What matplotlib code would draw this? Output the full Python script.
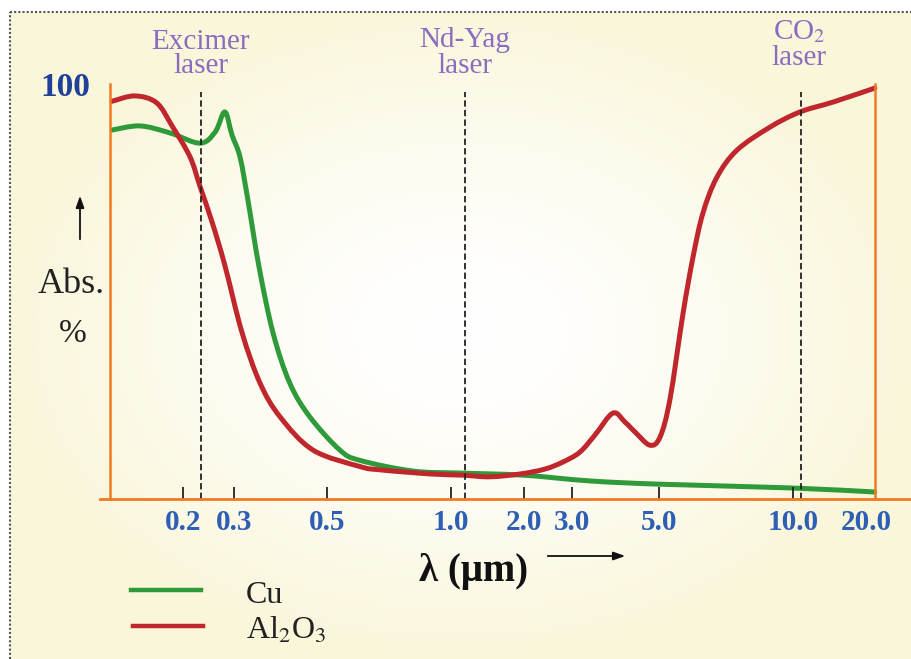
import matplotlib
matplotlib.use("Agg")
import matplotlib.pyplot as plt
import matplotlib.transforms as mtransforms
from matplotlib.lines import Line2D
from matplotlib.path import Path
from matplotlib.patches import PathPatch
import numpy as np

plt.rcParams['font.family'] = ['Liberation Serif', 'DejaVu Serif']
plt.rcParams['mathtext.fontset'] = 'stix'

# Eje x no lineal: valores de las marcas y su posicion en la figura original
tick_vals = [0.2, 0.3, 0.5, 1.0, 2.0, 3.0, 5.0, 10.0, 20.0]
tick_labels = ["0.2", "0.3", "0.5", "1.0", "2.0", "3.0", "5.0", "10.0", "20.0"]
knot_vals = [0.1, 0.2, 0.3, 0.5, 1.0, 2.0, 3.0, 5.0, 10.0, 20.0, 30.0]
knot_pos = [110, 183, 234, 327, 451, 524, 572, 659, 793, 866, 939]

# Cu (verde)
cu_x = [0.103, 0.141, 0.182, 0.233, 0.263, 0.282, 0.296, 0.313, 0.330, 0.354,
        0.384, 0.420, 0.463, 0.552, 0.633, 0.847, 1.16, 1.99, 3.41, 5.04,
        9.89, 21.2]
cu_y = [89.8, 90.8, 89.1, 86.6, 89.3, 94.2, 88.6, 83.2, 72.7, 56.4,
        40.4, 28.2, 20.0, 11.9, 9.4, 6.8, 6.3, 5.8, 4.4, 3.6,
        2.7, 1.7]

# Al2O3 (rojo)
al_x = [0.103, 0.134, 0.164, 0.186, 0.214, 0.233, 0.257, 0.282, 0.317, 0.356,
        0.399, 0.470, 0.633, 0.714, 0.915, 1.16, 1.53, 1.95, 2.44, 2.81,
        3.18, 3.53, 3.94, 4.22, 4.45, 4.79, 5.04, 5.41, 5.90, 6.27,
        6.64, 7.16, 7.91, 9.14, 10.96, 15.48, 21.2]
al_y = [96.8, 98.1, 96.4, 90.5, 83.2, 76.2, 67.4, 56.9, 40.6, 28.2,
        20.0, 11.9, 7.9, 7.1, 6.1, 5.8, 5.4, 6.1, 7.3, 9.0,
        11.4, 15.6, 20.9, 18.7, 16.3, 13.1, 15.1, 24.3, 45.3, 58.9,
        69.6, 78.3, 84.9, 90.5, 94.2, 96.6, 100.0]

# Lineas de los laser
laser_x = [0.235, 1.19, 11.0]

W, H = 912, 659
fig = plt.figure(figsize=(W / 100, H / 100), dpi=100)

# Fondo con degradado
bg = fig.add_axes([10 / W, 0, (W - 10) / W, (H - 12) / H])
yy, xx = np.mgrid[0:H - 12, 0:W - 10]
r = np.sqrt(((xx - 450) / 460) ** 2 + ((yy - 320) / 330) ** 2)
t = np.clip(r, 0, 1) ** 1.5
cream = np.array([250, 246, 218]) / 255
img = 1 - t[..., None] * (1 - cream)
bg.imshow(img, aspect='auto', extent=[0, 1, 0, 1])
bg.set_axis_off()

# Borde punteado
fig.add_artist(Line2D([10 / W, 10 / W], [0, 1 - 12 / H], transform=fig.transFigure,
                      color="#555555", lw=1.5, ls=(0, (1, 1))))
fig.add_artist(Line2D([10 / W, 1], [1 - 12 / H, 1 - 12 / H], transform=fig.transFigure,
                      color="#555555", lw=1.5, ls=(0, (1, 1))))

ax = fig.add_axes([110 / W, (H - 499) / H, 765 / W, 415 / H])
ax.patch.set_alpha(0)


def fwd(x):
    return np.interp(x, knot_vals, knot_pos)


def inv(p):
    return np.interp(p, knot_pos, knot_vals)


ax.set_xscale('function', functions=(fwd, inv))
ax.set_xlim(0.1, 21.2)
ax.set_ylim(0, 101)

orange = "#f07a22"
for s in ["top", "bottom"]:
    ax.spines[s].set_visible(False)
for s in ["left", "right"]:
    ax.spines[s].set_color(orange)
    ax.spines[s].set_linewidth(1.8)
fig.add_artist(Line2D([100 / W, 1], [(H - 499) / H, (H - 499) / H],
                      transform=fig.transFigure, color=orange, lw=2))

ax.set_yticks([])
ax.set_xticks(tick_vals)
ax.set_xticklabels(tick_labels, fontsize=21, fontweight="bold", color="#2d5fb5")
ax.xaxis.set_minor_locator(matplotlib.ticker.NullLocator())
ax.tick_params(axis="x", direction="in", length=9, width=1.3, color="#222222", pad=7)
ax.xaxis.get_major_ticks()[-1].tick1line.set_visible(False)

# Transformacion (posicion escalada, %) -> pantalla, para dibujar curvas suaves
pos_tr = mtransforms.Affine2D().translate(-110, 0).scale(1 / 765, 1 / 101) + ax.transAxes


def curva_suave(xs, ys, color):
    # Catmull-Rom convertido a Bezier sobre los puntos leidos
    p = np.column_stack([fwd(np.array(xs)), np.array(ys)])
    p_ext = np.vstack([p[0], p, p[-1]])
    verts = [p[0]]
    codes = [Path.MOVETO]
    for i in range(1, len(p_ext) - 2):
        p0, p1, p2, p3 = p_ext[i - 1], p_ext[i], p_ext[i + 1], p_ext[i + 2]
        c1 = p1 + (p2 - p0) / 6
        c2 = p2 - (p3 - p1) / 6
        verts += [c1, c2, p2]
        codes += [Path.CURVE4] * 3
    patch = PathPatch(Path(verts, codes), transform=pos_tr, fill=False,
                      edgecolor=color, lw=3.6, capstyle="round", joinstyle="round",
                      clip_on=False)
    ax.add_patch(patch)


curva_suave(cu_x, cu_y, "#2e9a3a")
curva_suave(al_x, al_y, "#c0272d")

# Lineas punteadas de los laser
for lx in laser_x:
    ax.plot([lx, lx], [0, 99], color="#222222", lw=1.3, dashes=(3.5, 1.8))

# Etiquetas de los laser
tr = mtransforms.blended_transform_factory(ax.transData, fig.transFigure)
purple = "#8b6cc0"
ax.text(laser_x[0], 1 - 49 / H, "Excimer", transform=tr, ha="center", va="baseline",
        fontsize=21, color=purple)
ax.text(laser_x[0], 1 - 73 / H, "laser", transform=tr, ha="center", va="baseline",
        fontsize=21, color=purple)
ax.text(laser_x[1], 1 - 47 / H, "Nd-Yag", transform=tr, ha="center", va="baseline",
        fontsize=21, color=purple)
ax.text(laser_x[1], 1 - 73 / H, "laser", transform=tr, ha="center", va="baseline",
        fontsize=21, color=purple)
ax.text(laser_x[2] * 0.98, 1 - 39 / H, r"CO$_2$", transform=tr, ha="center", va="baseline",
        fontsize=21, color=purple)
ax.text(laser_x[2] * 0.98, 1 - 65 / H, "laser", transform=tr, ha="center", va="baseline",
        fontsize=21, color=purple)

# Eje y
fig.text(65 / W, 1 - 88 / H, "100", ha="center", va="center", fontsize=24,
         fontweight="bold", color="#1f3f99")
fig.text(71 / W, 1 - 293 / H, "Abs.", ha="center", va="baseline", fontsize=26, color="#222222")
fig.text(73 / W, 1 - 342 / H, "%", ha="center", va="baseline", fontsize=24, color="#222222")
ax.annotate("", xy=(80 / W, 1 - 193 / H), xytext=(80 / W, 1 - 242 / H),
            xycoords="figure fraction", textcoords="figure fraction",
            arrowprops=dict(arrowstyle="-|>,head_length=0.7,head_width=0.25",
                            color="#111111", lw=1.3))

# Eje x
fig.text(474 / W, 1 - 581 / H, "λ (μm)", ha="center", va="baseline", fontsize=28,
         fontweight="bold", color="#111111")
ax.annotate("", xy=(628 / W, 1 - 556 / H), xytext=(545 / W, 1 - 556 / H),
            xycoords="figure fraction", textcoords="figure fraction",
            arrowprops=dict(arrowstyle="-|>,head_length=0.7,head_width=0.25",
                            color="#111111", lw=1.3))

# Leyenda
fig.add_artist(Line2D([131 / W, 201 / W], [1 - 590 / H, 1 - 590 / H],
                      transform=fig.transFigure, color="#2e9a3a", lw=3.2))
fig.add_artist(Line2D([133 / W, 203 / W], [1 - 626 / H, 1 - 626 / H],
                      transform=fig.transFigure, color="#c0272d", lw=3.2))
fig.text(246 / W, 1 - 603 / H, "Cu", ha="left", va="baseline", fontsize=23, color="#222222")
fig.text(246 / W, 1 - 639 / H, r"Al$_2$O$_3$", ha="left", va="baseline", fontsize=23,
         color="#222222")

fig.savefig("out.png", dpi=100)
